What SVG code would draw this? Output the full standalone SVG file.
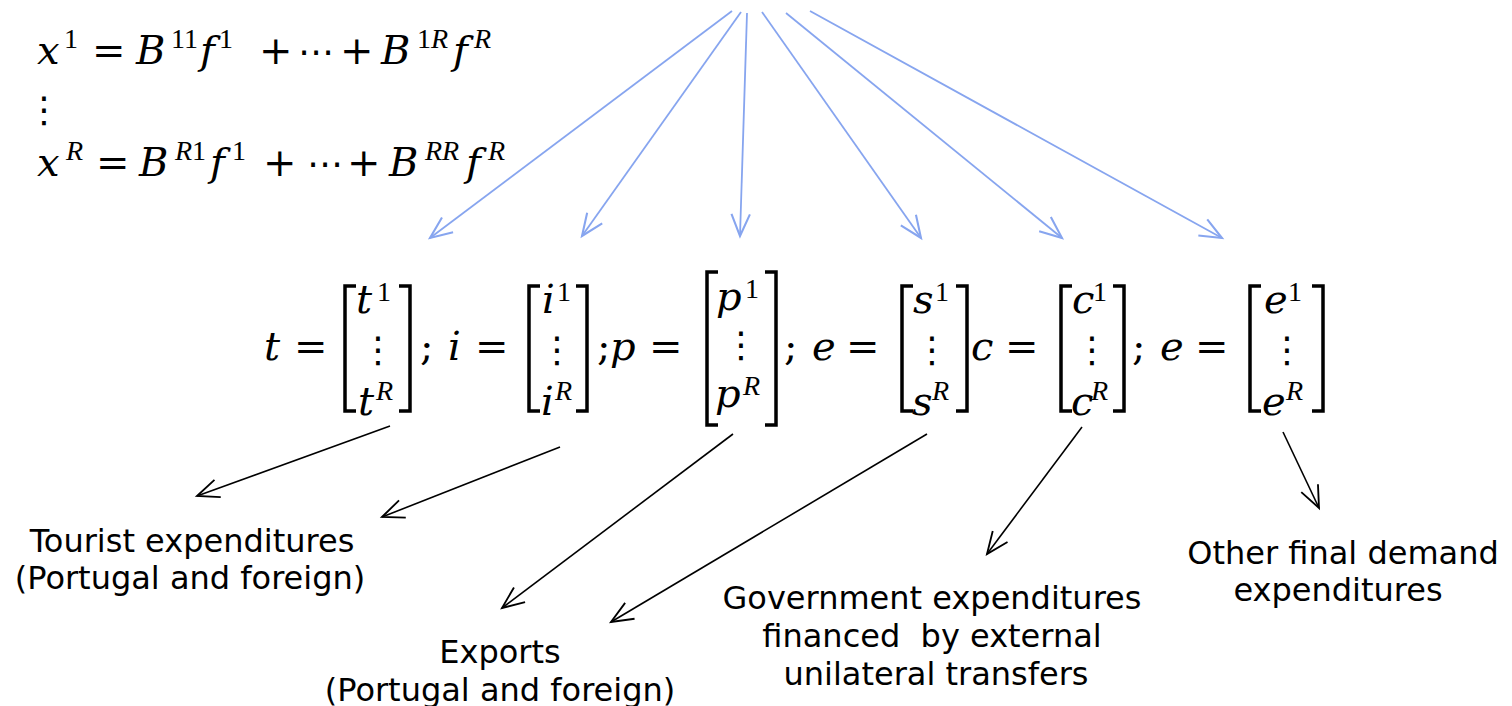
<svg xmlns="http://www.w3.org/2000/svg" width="1512" height="706" viewBox="0 0 1512 706">
<style>
.m{font-family:"DejaVu Serif","Liberation Serif",serif;font-size:40px;fill:#000}
.i{font-style:italic}
.s{font-family:"Liberation Serif","DejaVu Serif",serif;font-size:28px}
.dots{font-family:"DejaVu Sans","Noto Sans",sans-serif;font-size:36px;fill:#000;text-anchor:middle}
.lbl{font-family:"DejaVu Sans","Verdana",sans-serif;font-size:32px;fill:#000;text-anchor:middle}
.br{fill:none;stroke:#000;stroke-width:3.5}
.blue{stroke:#87a5ef;stroke-width:1.8;fill:none}
.blk{stroke:#000;stroke-width:1.6;fill:none}
</style>
<defs>
<marker id="ab" markerUnits="userSpaceOnUse" markerWidth="30" markerHeight="30" refX="0" refY="0" viewBox="-22 -12 26 24" orient="auto">
<path d="M-19,-8 L0,0 L-19,8" fill="none" stroke="#87a5ef" stroke-width="1.8"/>
</marker>
<marker id="ak" markerUnits="userSpaceOnUse" markerWidth="30" markerHeight="30" refX="0" refY="0" viewBox="-22 -12 26 24" orient="auto">
<path d="M-19,-8 L0,0 L-19,8" fill="none" stroke="#000" stroke-width="1.6"/>
</marker>
</defs>

<g id="equations">
<text class="m" y="64"><tspan class="i" x="37">x</tspan><tspan class="s" x="64" y="48">1</tspan><tspan x="92" y="64">=</tspan><tspan class="i" x="136">B</tspan><tspan class="s" x="171" y="48">11</tspan><tspan class="i" x="200" y="64">f</tspan><tspan class="s" x="219" y="48">1</tspan><tspan x="259" y="64">+</tspan><tspan x="340">+</tspan><tspan class="i" x="381">B</tspan><tspan class="s" x="417" y="48">1</tspan><tspan class="s i" y="48">R</tspan><tspan class="i" x="453" y="64">f</tspan><tspan class="s i" x="474" y="48">R</tspan></text>
<text class="dots" x="316" y="64">⋯</text>
<text class="dots" x="44" y="122">⋮</text>
<text class="m" y="176"><tspan class="i" x="37">x</tspan><tspan class="s i" x="66" y="160">R</tspan><tspan x="96" y="176">=</tspan><tspan class="i" x="139">B</tspan><tspan class="s i" x="175" y="160">R</tspan><tspan class="s" y="160">1</tspan><tspan class="i" x="210" y="176">f</tspan><tspan class="s" x="232" y="160">1</tspan><tspan x="263" y="176">+</tspan><tspan x="347">+</tspan><tspan class="i" x="389">B</tspan><tspan class="s i" x="425" y="160">RR</tspan><tspan class="i" x="466" y="176">f</tspan><tspan class="s i" x="488" y="160">R</tspan></text>
<text class="dots" x="325" y="176">⋯</text>
</g>

<g id="vectors">
<text class="m" y="360"><tspan class="i" x="264">t</tspan><tspan x="294">=</tspan><tspan x="420">;</tspan><tspan class="i" x="448">i</tspan><tspan x="475">=</tspan><tspan x="597">;</tspan><tspan class="i" x="610">p</tspan><tspan x="649">=</tspan><tspan x="784">;</tspan><tspan class="i" x="812">e</tspan><tspan x="846">=</tspan><tspan class="i" x="971">c</tspan><tspan x="1005">=</tspan><tspan x="1132">;</tspan><tspan class="i" x="1160">e</tspan><tspan x="1195">=</tspan></text>
</g>

<g id="vec-t">
<path class="br" d="M356,286 L345,286 L345,411 L356,411"/>
<path class="br" d="M399,286 L410,286 L410,411 L399,411"/>
<text class="m"><tspan class="i" x="356" y="313">t</tspan><tspan class="s" x="377" y="301">1</tspan><tspan class="i" x="358" y="415">t</tspan><tspan class="s i" x="376" y="400">R</tspan></text>
<text class="dots" x="378" y="362">⋮</text>
</g>

<g id="vec-i">
<path class="br" d="M540,286 L529,286 L529,411 L540,411"/>
<path class="br" d="M576,286 L587,286 L587,411 L576,411"/>
<text class="m"><tspan class="i" x="542" y="313">i</tspan><tspan class="s" x="557" y="301">1</tspan><tspan class="i" x="541" y="415">i</tspan><tspan class="s i" x="555" y="400">R</tspan></text>
<text class="dots" x="557" y="362">⋮</text>
</g>

<g id="vec-p">
<path class="br" d="M718,272 L707,272 L707,425 L718,425"/>
<path class="br" d="M765,272 L776,272 L776,425 L765,425"/>
<text class="m"><tspan class="i" x="716" y="310">p</tspan><tspan class="s" x="745" y="298">1</tspan><tspan class="i" x="715" y="407">p</tspan><tspan class="s i" x="743" y="395">R</tspan></text>
<text class="dots" x="741" y="357">⋮</text>
</g>

<g id="vec-s">
<path class="br" d="M913,286 L902,286 L902,411 L913,411"/>
<path class="br" d="M956,286 L967,286 L967,411 L956,411"/>
<text class="m"><tspan class="i" x="913" y="313">s</tspan><tspan class="s" x="935" y="301">1</tspan><tspan class="i" x="912" y="415">s</tspan><tspan class="s i" x="932" y="400">R</tspan></text>
<text class="dots" x="932" y="362">⋮</text>
</g>

<g id="vec-c">
<path class="br" d="M1072,286 L1061,286 L1061,411 L1072,411"/>
<path class="br" d="M1113,286 L1124,286 L1124,411 L1113,411"/>
<text class="m"><tspan class="i" x="1072" y="313">c</tspan><tspan class="s" x="1093" y="301">1</tspan><tspan class="i" x="1071" y="415">c</tspan><tspan class="s i" x="1091" y="400">R</tspan></text>
<text class="dots" x="1092" y="362">⋮</text>
</g>

<g id="vec-e">
<path class="br" d="M1261,286 L1250,286 L1250,411 L1261,411"/>
<path class="br" d="M1312,286 L1323,286 L1323,411 L1312,411"/>
<text class="m"><tspan class="i" x="1264" y="313">e</tspan><tspan class="s" x="1288" y="301">1</tspan><tspan class="i" x="1262" y="415">e</tspan><tspan class="s i" x="1286" y="400">R</tspan></text>
<text class="dots" x="1287" y="362">⋮</text>
</g>

<g id="label-tourist">
<text class="lbl" x="192" y="552">Tourist expenditures</text>
<text class="lbl" x="190" y="589">(Portugal and foreign)</text>
</g>
<g id="label-exports">
<text class="lbl" x="500" y="663">Exports</text>
<text class="lbl" x="500" y="701">(Portugal and foreign)</text>
</g>
<g id="label-government">
<text class="lbl" x="932" y="609">Government expenditures</text>
<text class="lbl" x="932" y="647" xml:space="preserve">financed  by external</text>
<text class="lbl" x="936" y="685">unilateral transfers</text>
</g>
<g id="label-other">
<text class="lbl" x="1343" y="564">Other final demand</text>
<text class="lbl" x="1338" y="601">expenditures</text>
</g>

<g id="connectors">
<line class="blue" x1="732" y1="11" x2="430" y2="238" marker-end="url(#ab)"/>
<line class="blue" x1="741" y1="12" x2="582" y2="236" marker-end="url(#ab)"/>
<line class="blue" x1="747" y1="13" x2="740" y2="236" marker-end="url(#ab)"/>
<line class="blue" x1="762" y1="12" x2="921" y2="238" marker-end="url(#ab)"/>
<line class="blue" x1="786" y1="13" x2="1062" y2="238" marker-end="url(#ab)"/>
<line class="blue" x1="810" y1="11" x2="1222" y2="238" marker-end="url(#ab)"/>
<line class="blk" x1="390" y1="426" x2="197" y2="496" marker-end="url(#ak)"/>
<line class="blk" x1="560" y1="447" x2="382" y2="517" marker-end="url(#ak)"/>
<line class="blk" x1="733" y1="434" x2="502" y2="608" marker-end="url(#ak)"/>
<line class="blk" x1="927" y1="434" x2="611" y2="622" marker-end="url(#ak)"/>
<line class="blk" x1="1082" y1="427" x2="987" y2="554" marker-end="url(#ak)"/>
<line class="blk" x1="1283" y1="432" x2="1319" y2="508" marker-end="url(#ak)"/>
</g>
</svg>
